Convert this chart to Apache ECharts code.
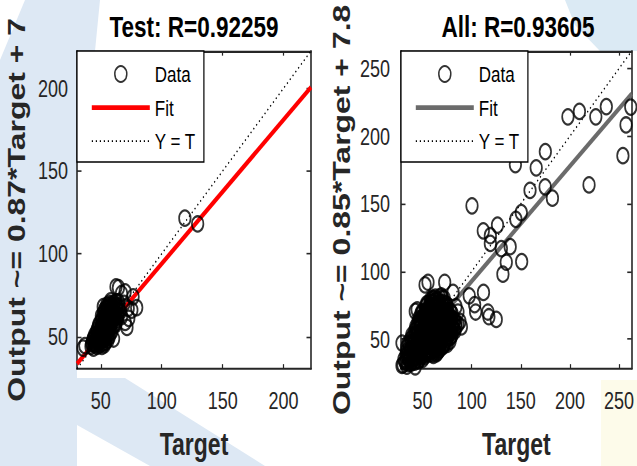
<!DOCTYPE html>
<html>
<head>
<meta charset="utf-8">
<script src="https://cdn.jsdelivr.net/npm/echarts@6/dist/echarts.min.js"></script>
<style>
  html, body { margin: 0; padding: 0; background: #ffffff; }
  body { width: 637px; height: 466px; overflow: hidden; }
  #wrap { width: 637px; height: 350px; transform-origin: 0 0; }
  #chart { width: 637px; height: 350px; }
</style>
</head>
<body>
<div id="wrap"><div id="chart"></div></div>
<script>
// Regression plots: test subset and all samples (target vs. network output)
const titles = ['Test: R=0.92259', 'All: R=0.93605'];
const yNames = ['Output ~= 0.87*Target + 7', 'Output ~= 0.85*Target + 7.8'];
const xName = 'Target';
const legendNames = ['Data', 'Fit', 'Y = T'];

const testTicks = [50, 100, 150, 200];
const allTicks = [50, 100, 150, 200, 250];
const testRange = [30.5, 222.5];
const allRange = [28, 263];

// fit line: [slope, intercept]
const testFit = [0.87, 7];
const allFit = [0.85, 7.8];

// [target, output]
const testData = [
  [35.5,43],[37,44.5],[42,44],[43,46],[44,43],[45,45],[46,47],[47,44],[48,46],[49,45],[50,47],[51,44],[52,46],[53,45],
  [44,49],[45,51],[46,48],[47,50],[48,52],[49,49],[50,51],[51,48],[52,50],[53,52],[54,49],[55,51],[56,48],
  [47,54],[48,56],[49,53],[50,55],[51,57],[52,54],[53,56],[54,53],[55,55],[56,57],[57,54],[58,56],[59,53],
  [50,59],[51,61],[52,58],[53,60],[54,62],[55,59],[56,61],[57,58],[58,60],[59,62],[60,59],[61,61],[62,58],[63,60],
  [52,64],[53,66],[54,63],[55,65],[56,67],[57,64],[58,66],[59,63],[60,65],[61,67],[62,64],[63,66],[64,63],[66,65],[67,62],
  [55,69],[57,70],[59,68],[61,70],[63,69],[65,68],
  [42.5,45.5],[44.5,46.5],[46.5,45.5],[48.5,47.5],[50.5,45.5],[52.5,48],[54,46.5],
  [43.5,48],[45.5,49.5],[47.5,48],[49.5,50.5],[51.5,49],[53.5,50.5],[55.5,49.5],[57,50],
  [46.5,52.5],[48.5,51],[50.5,53],[52.5,51.5],[54.5,53.5],[56.5,52],[58,52.5],
  [48.5,57.5],[50.5,56],[52.5,57.5],[54.5,56.5],[56.5,59],[58.5,57.5],[60.5,56.5],[62,57],
  [50.5,62.5],[52.5,61],[54.5,60.5],[56.5,63],[58.5,61.5],[60.5,62.5],[62.5,61.5],[64,62],
  [53.5,64.5],[55.5,67.5],[57.5,65.5],[59.5,66.5],[61.5,64.5],[63.5,67.5],[65,66],
  [54,67],[56.5,68.5],[58.5,69.5],[60.5,68.5],[62.5,71],[58,71.5],
  [60.5,48.5],[70,58.5],[71.5,55.5],[73,61],[72.5,67],[75.5,66],[79.5,67.5],[76.5,74],[70,77],[67,76],
  [64.5,79.5],[62.5,80],[64.5,71],[52,68],[69,70],
  [119,121.5],[129.5,118]
];

const allData = [
  [30,31],[32,33],[34,30],[36,34],[38,32],[40,35],[42,33],[44,36],[46,34],[48,37],[50,35],[35,36],[31,35],
  [33,34],[35,32],[37,35],[39,33],[41,36],[43,34],[45,37],[47,35],[49,38],[52,37],[54,39],
  [33,38],[35,40],[37,37],[39,41],[41,38],[43,40],[45,42],[47,39],[49,41],[51,38],[53,40],[55,42],[57,39],[59,41],[61,38],[63,41],[65,40],[67,42],
  [34,41],[36,39],[38,42],[40,40],[42,43],[44,41],[46,43],[48,40],[50,42],[52,39],[54,41],[56,40],[58,42],[60,39],[62,42],[64,39],[66,41],[68,43],
  [34,44],[36,46],[38,43],[40,47],[42,45],[44,48],[46,44],[48,46],[50,43],[52,47],[54,45],[56,48],[58,44],[60,46],[62,43],[64,47],[66,45],[68,48],[70,44],[72,46],[74,47],
  [35,47],[37,45],[39,48],[41,46],[43,44],[45,47],[47,45],[49,48],[51,46],[53,44],[55,47],[57,45],[59,48],[61,45],[63,46],[65,48],[67,44],[69,47],[71,45],[73,48],[75,46],
  [38,50],[40,52],[42,49],[44,53],[46,51],[48,54],[50,50],[52,52],[54,49],[56,53],[58,51],[60,54],[62,50],[64,52],[66,49],[68,53],[70,51],[72,54],[74,50],[76,52],[78,51],[80,53],
  [39,53],[41,51],[43,54],[45,50],[47,53],[49,51],[51,54],[53,50],[55,52],[57,54],[59,50],[61,52],[63,54],[65,51],[67,53],[69,50],[71,52],[73,53],[75,51],[77,54],[79,52],
  [42,56],[44,58],[46,55],[48,59],[50,57],[52,60],[54,56],[56,58],[58,55],[60,59],[62,57],[64,60],[66,56],[68,58],[70,55],[72,59],[74,57],[76,60],[78,56],[80,58],[82,57],[84,59],
  [43,59],[45,57],[47,60],[49,56],[51,59],[53,57],[55,60],[57,56],[59,58],[61,56],[63,59],[65,57],[67,59],[69,56],[71,58],[73,60],[75,56],[77,58],[79,57],[81,59],[83,56],
  [45,62],[47,64],[49,61],[51,65],[53,63],[55,66],[57,62],[59,64],[61,61],[63,65],[65,63],[67,66],[69,62],[71,64],[73,61],[75,65],[77,63],[79,66],[81,62],[83,64],[86,61],
  [46,65],[48,63],[50,66],[52,62],[54,64],[56,63],[58,66],[60,62],[62,64],[64,66],[66,62],[68,64],[70,66],[72,63],[74,65],[76,62],[78,64],[80,65],[82,63],[84,62],
  [48,68],[50,70],[52,67],[54,71],[56,69],[58,72],[60,68],[62,70],[64,67],[66,71],[68,69],[70,72],[72,68],[74,70],[76,67],[78,71],[80,69],
  [49,70],[51,68],[53,70],[55,68],[57,71],[59,69],[61,71],[63,68],[65,70],[67,72],[69,68],[71,70],[73,69],[75,71],[77,68],[79,70],
  [53,74],[55,76],[57,73],[59,77],[61,75],[63,78],[65,74],[67,76],[69,73],[71,77],[73,75],[75,74],
  [54,76],[56,74],[58,75],[60,77],[62,74],[64,76],[66,75],[68,77],[70,75],[72,74],[74,76],
  [60,80],[63,81],[66,79],[69,82],[72,80],[58,79],
  [59,78],[61,80],[64,79],[67,81],[70,80],
  [27.5,45],[29,30.5],[29,47],[42.5,29.5],[42.5,70.5],[44.5,71.5],[52.5,90],[55.5,92],[72.5,92],[81,84.5],
  [89.5,59],[79.5,54.5],[78,48.5],[59.5,45],[86,70],[88,63],[84,74],
  [97.5,82],[103,75.5],[104,70],[112,84.5],[116.5,70],[117.5,66.5],[125,64.5],
  [100.3,148.5],[111.8,130],[119,126.4],[119,120.7],[126.3,134.3],[130.2,116.9],[131.8,98],[135.2,106.8],
  [139.2,118.3],[145,138.5],[144.5,179],[150.5,143.5],[150.9,107.3],[159.4,160],[165.7,176.6],[174.8,162.5],
  [175,188.6],[182.2,154.2],[198,214.3],[209.7,218.3],[219.5,164],[226.4,214.3],[237.1,221.9],[254,185.6],
  [257.2,208.3],[262,221.5]
];

const fitColors = ['#ff0000', '#6b6b6b'];

// page is drawn at 350px tall and stretched vertically to 466px
const BASE_H = 350;
const STRETCH = 466 / BASE_H;
document.getElementById('wrap').style.transform = 'scaleY(' + STRETCH + ')';

const FONT = "'Liberation Sans', Arial, Helvetica, sans-serif";
const AXIS_COLOR = '#262626';
const gridTop = 51 / STRETCH;
const gridH = (377.7 - 51) / STRETCH;
const gridLefts = [77, 401];
const gridW = 234;

function lineThrough(range, fit) {
  return range.map(x => [x, fit[0] * x + fit[1]]);
}
function identity(range) {
  return range.map(x => [x, x]);
}

function xAxes(i, range, ticks) {
  const common = {
    gridIndex: i, type: 'value', min: range[0], max: range[1],
    splitLine: { show: false },
    axisLine: { show: true, onZero: false, lineStyle: { color: AXIS_COLOR, width: 1.6 } },
    axisTick: { show: true, inside: true, length: 3.5, customValues: ticks, lineStyle: { color: AXIS_COLOR, width: 1.2 } }
  };
  return [
    Object.assign({}, common, {
      position: 'bottom',
      axisLabel: { customValues: ticks, margin: 15, fontSize: 18, color: AXIS_COLOR, fontFamily: FONT },
      name: xName, nameLocation: 'middle', nameGap: 45,
      nameTextStyle: { fontSize: 23, fontWeight: 'bold', color: AXIS_COLOR, fontFamily: FONT }
    }),
    Object.assign({}, common, { position: 'top', axisLabel: { show: false } })
  ];
}
function yAxes(i, range, ticks, name, margin, gap) {
  const common = {
    gridIndex: i, type: 'value', min: range[0], max: range[1],
    splitLine: { show: false },
    axisLine: { show: true, onZero: false, lineStyle: { color: AXIS_COLOR, width: 1.6 } },
    axisTick: { show: true, inside: true, length: 4.5, customValues: ticks, lineStyle: { color: AXIS_COLOR, width: 1.2 } }
  };
  return [
    Object.assign({}, common, {
      position: 'left',
      axisLabel: { customValues: ticks, margin: margin, fontSize: 18, color: AXIS_COLOR, fontFamily: FONT },
      name: name, nameLocation: 'middle', nameGap: gap, nameRotate: 90,
      nameTextStyle: { fontSize: 24, fontWeight: 'bold', color: AXIS_COLOR, fontFamily: FONT }
    }),
    Object.assign({}, common, { position: 'right', axisLabel: { show: false } })
  ];
}

function seriesFor(i, data, range, fit, color) {
  return [
    {
      name: legendNames[1], type: 'line', xAxisIndex: 2 * i, yAxisIndex: 2 * i,
      data: lineThrough(range, fit), symbol: 'none', silent: true, z: 2,
      itemStyle: { color: color },
      lineStyle: { color: color, width: 3.6 }
    },
    {
      name: legendNames[2], type: 'line', xAxisIndex: 2 * i, yAxisIndex: 2 * i,
      data: identity(range), symbol: 'none', silent: true, z: 2,
      itemStyle: { color: '#000000' },
      lineStyle: { color: '#000000', width: 1.2, type: [1.2, 2.8] }
    },
    {
      name: legendNames[0], type: 'scatter', xAxisIndex: 2 * i, yAxisIndex: 2 * i,
      data: data, symbol: 'circle', symbolSize: 11.5, silent: true, z: 3,
      itemStyle: { color: 'rgba(0,0,0,0)', borderColor: '#000000', borderWidth: 1.7 }
    }
  ];
}

function legendFor(i) {
  return {
    left: gridLefts[i], top: gridTop, orient: 'vertical', selectedMode: false,
    data: [
      { name: legendNames[0] },
      { name: legendNames[1], lineStyle: { color: fitColors[i] }, itemStyle: { opacity: 0 } },
      { name: legendNames[2], itemStyle: { opacity: 0 } }
    ],
    itemWidth: 58, itemHeight: 12, itemGap: 8.2,
    padding: [8.8, 8, 7.2, 13],
    backgroundColor: '#ffffff', borderColor: '#000000', borderWidth: 1.2, borderRadius: 0,
    textStyle: { fontSize: 17, lineHeight: 17, color: '#000000', fontFamily: FONT },
    lineStyle: { width: 'inherit', type: 'inherit' },
    itemStyle: { borderWidth: 1.5 }
  };
}

// faint background shapes, drawn in the stretched (page) coordinate frame
const WASH = '#dde8f4';
const watermark = {
  type: 'group', scaleY: 1 / STRETCH, silent: true,
  children: [
    { type: 'polygon', z: -10, shape: { points: [[25, 0], [100, 0], [95, 51], [77, 51], [77, 466], [0, 466], [0, 60]] }, style: { fill: WASH } },
    { type: 'polygon', z: -10, shape: { points: [[77, 378], [125, 378], [265, 466], [150, 466], [77, 425]] }, style: { fill: WASH } },
    { type: 'polygon', z: -10, shape: { points: [[565, 0], [637, 0], [637, 51], [600, 51], [575, 25]] }, style: { fill: '#dbeaf4' } },
    { type: 'rect', z: -10, shape: { x: 601, y: 380, width: 36, height: 86 }, style: { fill: '#fdfbea' } }
  ]
};

const chart = echarts.init(document.getElementById('chart'), null, { renderer: 'svg', width: 637, height: BASE_H });

chart.setOption({
  animation: false,
  backgroundColor: '#ffffff',
  graphic: { elements: [watermark] },
  title: titles.map((t, i) => ({
    text: t, left: gridLefts[i] + gridW / 2, top: 8.5, textAlign: 'center', padding: 0,
    textStyle: { fontSize: 22.5, fontWeight: 'bold', color: '#000000', fontFamily: FONT }
  })),
  legend: [legendFor(0), legendFor(1)],
  grid: gridLefts.map(l => ({
    left: l, top: gridTop, width: gridW, height: gridH,
    show: true, backgroundColor: '#ffffff', borderWidth: 0, containLabel: false
  })),
  xAxis: [].concat(xAxes(0, testRange, testTicks), xAxes(1, allRange, allTicks)),
  yAxis: [].concat(yAxes(0, testRange, testTicks, yNames[0], 9, 48), yAxes(1, allRange, allTicks, yNames[1], 11, 47)),
  series: [].concat(
    seriesFor(0, testData, testRange, testFit, fitColors[0]),
    seriesFor(1, allData, allRange, allFit, fitColors[1])
  )
});
</script>
</body>
</html>
